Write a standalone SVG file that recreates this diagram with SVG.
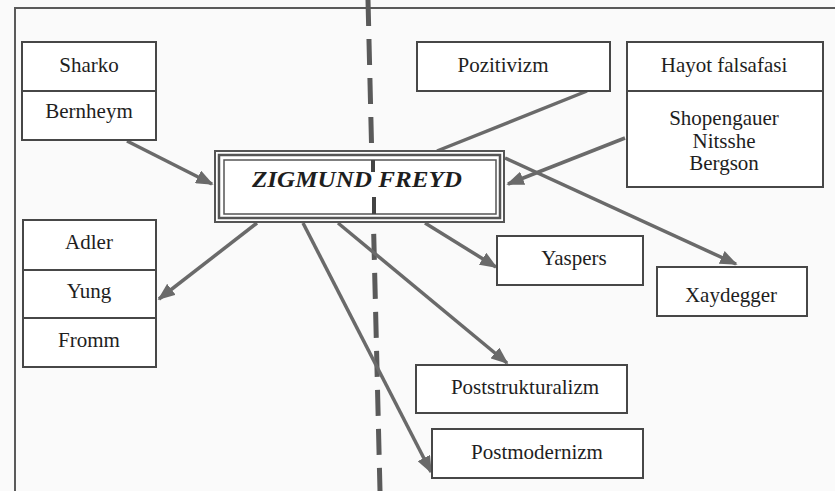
<svg xmlns="http://www.w3.org/2000/svg" width="835" height="491" viewBox="0 0 835 491">
<style>
.box{fill:#fff;stroke:#474747;stroke-width:2}
.t{font-family:"Liberation Serif","Times New Roman",serif;font-size:21px;fill:#1e1e1e;text-anchor:middle}
.c{stroke:#6a6a6a;stroke-width:3.5;fill:none}
.dash{stroke:#5a5a5a;stroke-width:5;fill:none}
</style>
<defs>
<marker id="ah" markerWidth="5" markerHeight="4" refX="4.5" refY="2" orient="auto" markerUnits="strokeWidth">
<path d="M0,0 L5,2 L0,4 Z" fill="#6a6a6a"/>
</marker>
</defs>
<rect x="0" y="0" width="835" height="491" fill="#fafafa"/>
<g id="frame">
<path d="M15,491 V8 H835" fill="none" stroke="#5a5a5a" stroke-width="2"/>
</g>
<g id="divider">
<path class="dash" d="M368,0 L380,491" stroke-dasharray="26,13"/>
</g>
<g id="connectors">
<path class="c" d="M127,141 L212,184" marker-end="url(#ah)"/>
<path class="c" d="M587,91 L437,151"/>
<path class="c" d="M625,138 L508,184" marker-end="url(#ah)"/>
<path class="c" d="M505,158 L736,264" marker-end="url(#ah)"/>
<path class="c" d="M425,223 L496,267" marker-end="url(#ah)"/>
<path class="c" d="M257,223 L159,299" marker-end="url(#ah)"/>
<path class="c" d="M338,223 L507,363" marker-end="url(#ah)"/>
<path class="c" d="M303,223 L431,472" marker-end="url(#ah)"/>
</g>
<g id="freyd">
<rect x="215" y="151" width="289" height="71" fill="#fff" stroke="#555" stroke-width="2"/>
<rect x="219" y="155" width="281" height="63" fill="none" stroke="#555" stroke-width="2.5"/>
<rect x="224" y="160" width="272" height="54" fill="#fff" stroke="#555" stroke-width="1.5"/>
<path d="M373,160 V172 M374,197 V214" stroke="#444" stroke-width="4"/>
<text x="357" y="187" font-family="'Liberation Serif','Times New Roman',serif" font-size="23" font-weight="bold" font-style="italic" fill="#1e1e1e" text-anchor="middle" textLength="210" lengthAdjust="spacingAndGlyphs">ZIGMUND FREYD</text>
</g>
<g id="sharko">
<rect class="box" x="22" y="42" width="134" height="98"/>
<line x1="22" y1="91" x2="156" y2="91" stroke="#474747" stroke-width="2"/>
<text class="t" x="89" y="72">Sharko</text>
<text class="t" x="89" y="118">Bernheym</text>
</g>
<g id="pozitivizm">
<rect class="box" x="417" y="42" width="193" height="49"/>
<text class="t" x="503" y="72">Pozitivizm</text>
</g>
<g id="hayot">
<rect class="box" x="627" y="42" width="196" height="145"/>
<line x1="627" y1="91" x2="823" y2="91" stroke="#474747" stroke-width="2"/>
<text class="t" x="724" y="72">Hayot falsafasi</text>
<text class="t" x="724" y="125">Shopengauer</text>
<text class="t" x="724" y="148">Nitsshe</text>
<text class="t" x="724" y="170">Bergson</text>
</g>
<g id="adler">
<rect class="box" x="23" y="220" width="133" height="147"/>
<line x1="23" y1="270" x2="156" y2="270" stroke="#474747" stroke-width="2"/>
<line x1="23" y1="318" x2="156" y2="318" stroke="#474747" stroke-width="2"/>
<text class="t" x="89" y="249">Adler</text>
<text class="t" x="89" y="298">Yung</text>
<text class="t" x="89" y="347">Fromm</text>
</g>
<g id="yaspers">
<rect class="box" x="497" y="236" width="146" height="49"/>
<text class="t" x="574" y="265">Yaspers</text>
</g>
<g id="xaydegger">
<rect class="box" x="657" y="267" width="150" height="49"/>
<text class="t" x="731" y="302">Xaydegger</text>
</g>
<g id="poststrukturalizm">
<rect class="box" x="416" y="365" width="211" height="48"/>
<text class="t" x="525" y="394">Poststrukturalizm</text>
</g>
<g id="postmodernizm">
<rect class="box" x="432" y="429" width="211" height="49"/>
<text class="t" x="537" y="459">Postmodernizm</text>
</g>
</svg>
